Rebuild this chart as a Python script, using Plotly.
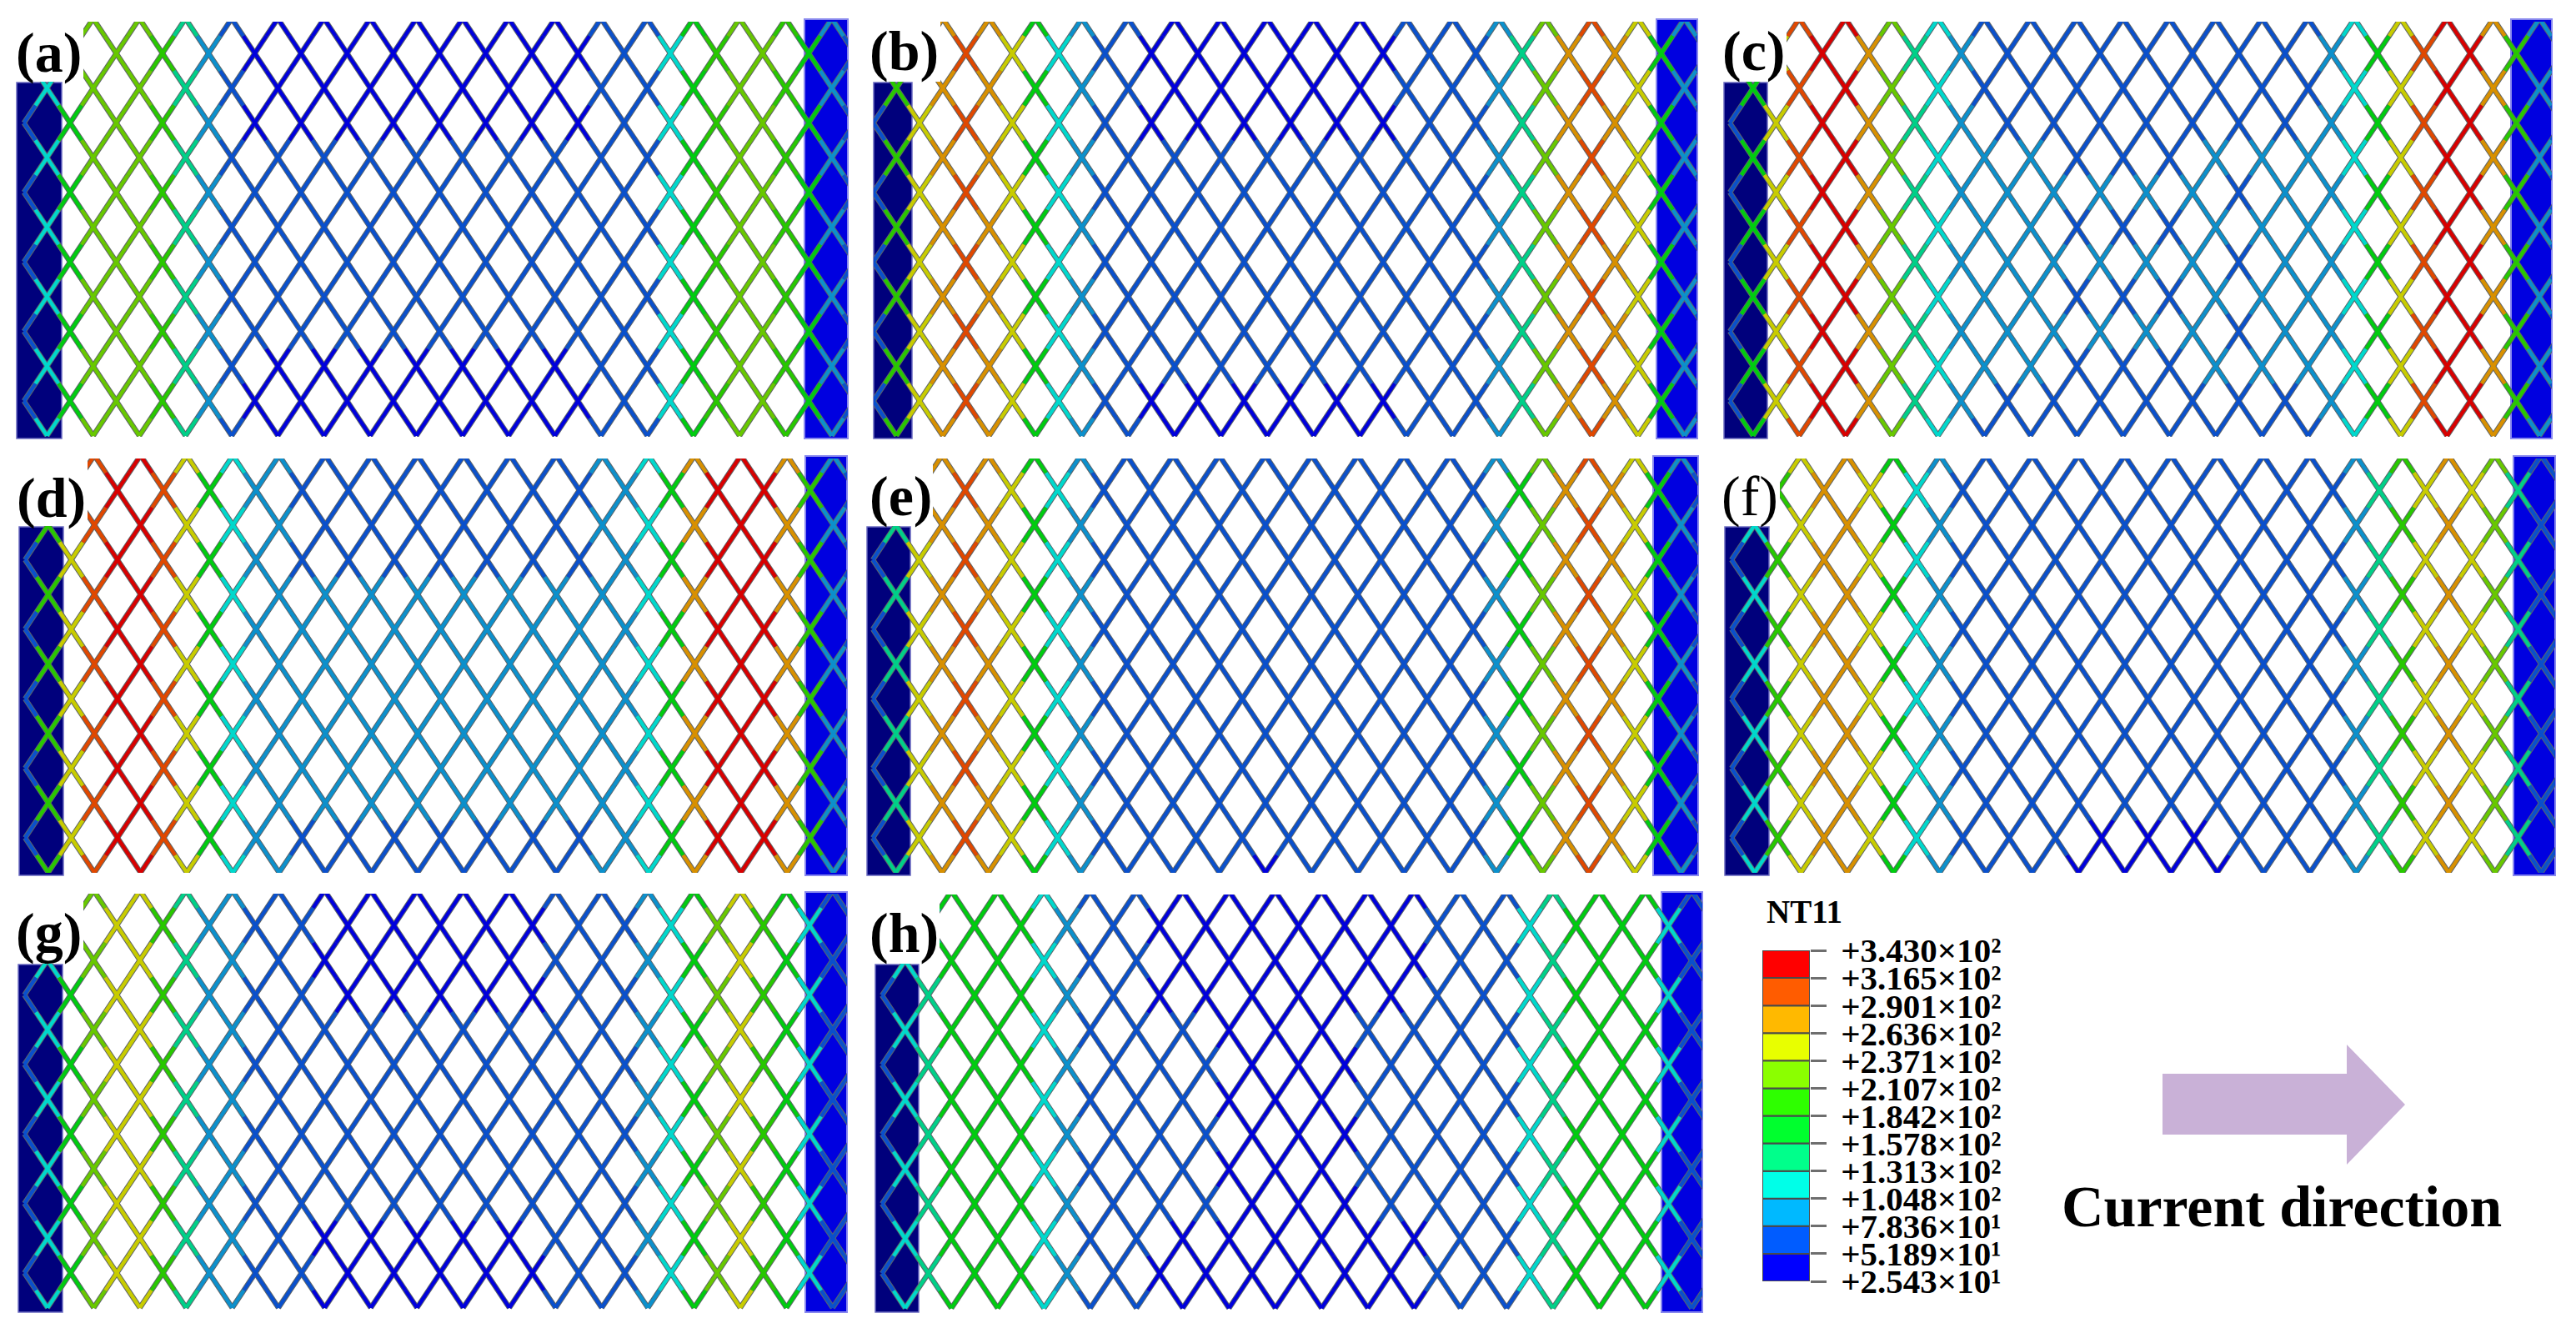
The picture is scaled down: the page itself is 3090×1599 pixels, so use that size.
import bisect
import plotly.graph_objects as go

W, H = 3090, 1599
SERIF = "Liberation Serif"

# contour levels of NT11, low to high
LEVELS = [25.43, 51.89, 78.36, 104.8, 131.3, 157.8, 184.2, 210.7, 237.1, 263.6, 290.1, 316.5, 343.0]
LEVEL_LABELS = ["+2.543×10¹", "+5.189×10¹", "+7.836×10¹", "+1.048×10²", "+1.313×10²", "+1.578×10²",
                "+1.842×10²", "+2.107×10²", "+2.371×10²", "+2.636×10²", "+2.901×10²", "+3.165×10²",
                "+3.430×10²"]
BAND_COLORS = ["#0000FF", "#005CFF", "#00B9FF", "#00FFE8", "#00FF8B", "#00FF2E",
               "#2EFF00", "#8BFF00", "#E8FF00", "#FFB900", "#FF5C00", "#FF0000"]
# the struts are shaded in the render, so they read darker than the legend
STRUT_COLORS = ["#0000DC", "#0A50CC", "#0C90CC", "#00D8CC", "#00D088", "#00CC10",
                "#28C800", "#68C800", "#C8CC00", "#D89000", "#E04800", "#D80000"]

PANELS = ["(a)", "(b)", "(c)", "(d)", "(e)", "(f)", "(g)", "(h)"]

# temperature read at each lattice column (37 columns, left to right), middle rows
TEMP_A = [65, 118, 171, 224, 224, 224, 197, 144, 92, 65] + [65] * 18 + [118, 171, 197, 224, 224, 197, 171, 92, 65]
TEMP_B = [65, 197, 250, 277, 303, 277, 250, 171, 118, 92] + [65] * 17 + [92, 144, 224, 277, 303, 277, 250, 171, 92, 65]
TEMP_C = [65, 171, 250, 303, 330, 330, 277, 224, 144, 118, 92, 92, 92, 92, 92, 65, 92, 65, 92, 65, 92, 92, 65, 92,
          92, 92, 92, 118, 171, 250, 303, 330, 330, 277, 197, 92, 65]
TEMP_D = [65, 197, 250, 303, 330, 330, 303, 250, 171, 118] + [92] * 17 + [118, 171, 277, 320, 330, 330, 277, 197, 92, 65]
TEMP_E = [65, 144, 250, 277, 303, 277, 250, 171, 118, 92] + [65] * 17 + [92, 171, 224, 277, 303, 277, 250, 171, 92, 65]
TEMP_F = [65, 118, 197, 250, 277, 277, 250, 171, 118, 92] + [65] * 17 + [92, 144, 197, 250, 277, 250, 224, 144, 65, 65]
TEMP_G = [65, 118, 171, 224, 250, 250, 197, 144, 92, 92] + [65] * 17 + [92, 118, 171, 224, 250, 197, 171, 118, 65, 65]
TEMP_H = [65, 118, 144, 171, 171, 171, 171, 118, 92, 65] + [65] * 5 + [38] * 6 + [65] * 6 + [65, 118, 144, 171, 171, 171, 171, 118, 65, 65]
TEMPS = [TEMP_A, TEMP_B, TEMP_C, TEMP_D, TEMP_E, TEMP_F, TEMP_G, TEMP_H]

# colder rows near the top and bottom edge of the mesh
EDGE_FIRST = [10, 12, 11, 12, 17, 15, 13, 12]
EDGE_LAST = [24, 22, 25, 24, 17, 21, 22, 23]
EDGE_TOP = [3, 3, 3, 3, -1, -1, 3, 3]
EDGE_BOTTOM = [10, 11, 11, 11, 12, 11, 10, 10]
EDGE_TEMP = [38, 38, 65, 65, 38, 38, 38, 38]

# panel placement, in pixels of the page
PLATE_L0 = [20, 1048, 2068, 23, 1040, 2069, 22, 1050]
PLATE_L1 = [74, 1094, 2120, 76, 1092, 2122, 75, 1102]
PLATE_R0 = [965, 1987, 3012, 966, 1983, 3015, 966, 1993]
PLATE_R1 = [1017, 2036, 3061, 1016, 2037, 3065, 1016, 2042]
PLATE_L_TOP = [99, 99, 99, 632, 632, 632, 1157, 1157]
PLATE_R_TOP = [23, 23, 23, 547, 547, 547, 1070, 1070]
PLATE_BOTTOM = [526, 526, 526, 1050, 1050, 1050, 1574, 1574]
MESH_TOP = [26, 26, 26, 550, 550, 550, 1072, 1073]
MESH_BOTTOM = [524, 524, 524, 1047, 1047, 1047, 1571, 1571]
COL0_X = [28.7, 1047.5, 2075, 30.1, 1047, 2077, 29.3, 1058]
COL_DX = [27.69, 27.8, 27.75, 27.7, 27.7, 27.75, 27.7, 27.75]
ROW1_Y = [64, 64, 64, 588, 588, 588, 1110, 1110.5]
ROW_DY = 41.7
COVER_R = [100, 1128, 2143, 105, 1119, 2135, 100, 1127]
LABEL_X = [59, 1084, 2103, 61, 1080, 2099, 59, 1084]
LABEL_Y = [63, 61, 61, 597, 595, 595, 1119, 1119]
LABEL_BOLD = [True, True, True, True, True, False, True, True]

N_COLS = 36
N_ROWS = 12


def px(x):
    return x / W


def py(y):
    return 1 - y / H


def band(temp):
    return min(bisect.bisect_right(LEVELS, temp) - 1, 11)


def node_temp(p, col, row):
    if EDGE_FIRST[p] <= col <= EDGE_LAST[p] and (row <= EDGE_TOP[p] or row >= EDGE_BOTTOM[p]):
        return EDGE_TEMP[p]
    return TEMPS[p][col]


fig = go.Figure()
shapes = []
annotations = []

for p, name in enumerate(PANELS):
    xname, yname = f"x{p + 1}", f"y{p + 1}"
    left, right = PLATE_L0[p], PLATE_R1[p]
    x0, dx = COL0_X[p], COL_DX[p]
    y0, dy = ROW1_Y[p] - ROW_DY, ROW_DY

    fig.update_layout(**{
        f"xaxis{p + 1}": dict(domain=[px(left), px(right)], anchor=yname, visible=False, automargin=False,
                              range=[(left - x0) / dx, (right - x0) / dx]),
        f"yaxis{p + 1}": dict(domain=[py(MESH_BOTTOM[p]), py(MESH_TOP[p])], anchor=xname, visible=False,
                              automargin=False,
                              range=[(MESH_BOTTOM[p] - y0) / dy, (MESH_TOP[p] - y0) / dy]),
    })

    # end plates under the mesh
    shapes.append(dict(type="rect", xref="paper", yref="paper", layer="below",
                       x0=px(PLATE_L0[p]), x1=px(PLATE_L1[p]), y0=py(PLATE_BOTTOM[p]), y1=py(PLATE_L_TOP[p]),
                       fillcolor="#00007C", line=dict(color="#6A6AC0", width=1.5)))
    shapes.append(dict(type="rect", xref="paper", yref="paper", layer="below",
                       x0=px(PLATE_R0[p]), x1=px(PLATE_R1[p]), y0=py(PLATE_BOTTOM[p]), y1=py(PLATE_R_TOP[p]),
                       fillcolor="#0000E0", line=dict(color="#8888EE", width=2)))

    # struts, split in halves so each half takes the colour of its own node
    out_x, out_y = [], []
    band_x = [[] for _ in STRUT_COLORS]
    band_y = [[] for _ in STRUT_COLORS]
    for col in range(N_COLS):
        for row in range(N_ROWS):
            if (col + row) % 2 == 1:
                row_a, row_b = row, row + 1
            else:
                row_a, row_b = row + 1, row
            out_x += [col, col + 1, None]
            out_y += [row_a, row_b, None]
            mid_x, mid_y = col + 0.5, (row_a + row_b) / 2
            b = band(node_temp(p, col, row_a))
            band_x[b] += [col, mid_x, None]
            band_y[b] += [row_a, mid_y, None]
            b = band(node_temp(p, col + 1, row_b))
            band_x[b] += [mid_x, col + 1, None]
            band_y[b] += [mid_y, row_b, None]

    fig.add_trace(go.Scatter(x=out_x, y=out_y, xaxis=xname, yaxis=yname, mode="lines",
                             line=dict(color="#5E6468", width=6.4), hoverinfo="skip"))
    for b, color in enumerate(STRUT_COLORS):
        if band_x[b]:
            fig.add_trace(go.Scatter(x=band_x[b], y=band_y[b], xaxis=xname, yaxis=yname, mode="lines",
                                     line=dict(color=color, width=4.4), hoverinfo="skip"))

    # white box behind the panel letter hides the mesh corner
    shapes.append(dict(type="rect", xref="paper", yref="paper", layer="above",
                       x0=px(PLATE_L0[p] - 6), x1=px(COVER_R[p]), y0=py(PLATE_L_TOP[p] - 1), y1=py(MESH_TOP[p] - 6),
                       fillcolor="white", line=dict(width=0)))
    label = f"<b>{name}</b>" if LABEL_BOLD[p] else name
    annotations.append(dict(text=label, xref="paper", yref="paper", x=px(LABEL_X[p]), y=py(LABEL_Y[p]),
                            xanchor="center", yanchor="middle", showarrow=False,
                            font=dict(family=SERIF, size=68, color="black")))

# legend bar
fig.add_trace(go.Bar(x=[0] * len(BAND_COLORS), y=[1] * len(BAND_COLORS), base=list(range(len(BAND_COLORS))),
                     width=1, xaxis="x9", yaxis="y9", hoverinfo="skip",
                     marker=dict(color=BAND_COLORS, line=dict(color="#4A4A4A", width=2))))
fig.update_layout(
    xaxis9=dict(domain=[px(2114), px(2171)], range=[-0.5, 0.5], anchor="y9", visible=False, automargin=False),
    yaxis9=dict(domain=[py(1537), py(1140)], range=[0, 12], anchor="x9", side="right", automargin=False,
                tickvals=list(range(len(LEVELS))), ticktext=LEVEL_LABELS, ticks="outside",
                ticklen=19, tickwidth=2.5, tickcolor="#6E6E6E", ticklabelstandoff=9,
                showgrid=False, zeroline=False, showline=False,
                tickfont=dict(family=SERIF, size=41, color="black", weight=700)),
)
annotations.append(dict(text="<b>NT11</b>", xref="paper", yref="paper", x=px(2164), y=py(1093),
                        xanchor="center", yanchor="middle", showarrow=False,
                        font=dict(family=SERIF, size=39, color="black")))

# current direction arrow
arrow = [(2594, 1288), (2815, 1288), (2815, 1253), (2885, 1325), (2815, 1397), (2815, 1361), (2594, 1361)]
path = "M " + " L ".join(f"{px(a)} {py(b)}" for a, b in arrow) + " Z"
shapes.append(dict(type="path", xref="paper", yref="paper", path=path, fillcolor="#C9B1D7", line=dict(width=0)))
annotations.append(dict(text="<b>Current direction</b>", xref="paper", yref="paper", x=px(2737), y=py(1447),
                        xanchor="center", yanchor="middle", showarrow=False,
                        font=dict(family=SERIF, size=70, color="black")))

fig.update_layout(
    template="none",
    width=W,
    height=H,
    margin=dict(l=0, r=0, t=0, b=0, pad=0),
    paper_bgcolor="white",
    plot_bgcolor="rgba(0,0,0,0)",
    showlegend=False,
    barmode="overlay",
    shapes=shapes,
    annotations=annotations,
)

fig.write_html("out.html", config=dict(displayModeBar=False), post_script="document.body.style.margin='0';")
